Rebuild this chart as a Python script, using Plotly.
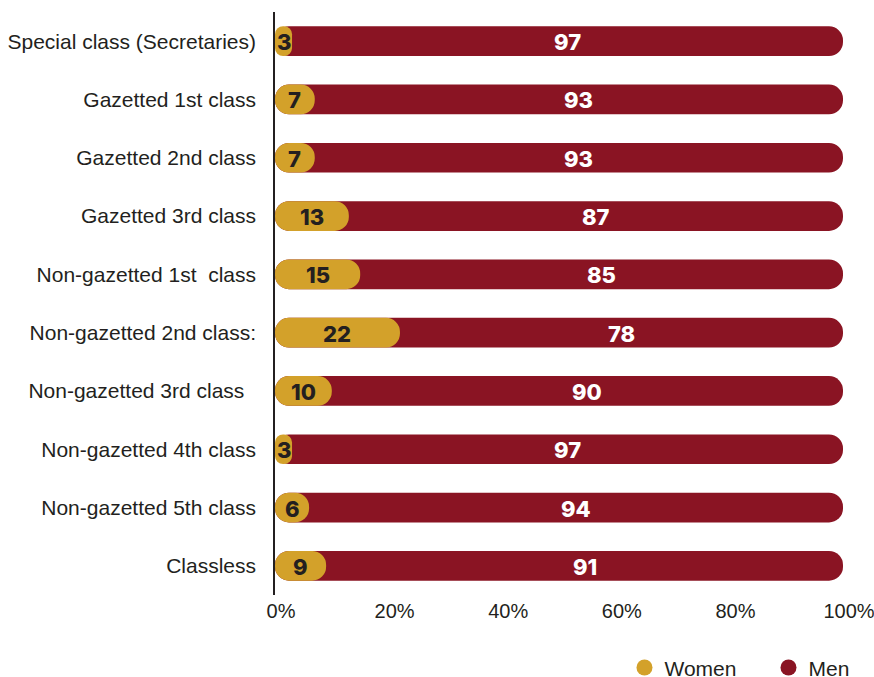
import plotly.graph_objects as go

categories = [
    "Special class (Secretaries)",
    "Gazetted 1st class",
    "Gazetted 2nd class",
    "Gazetted 3rd class",
    "Non-gazetted 1st\u00a0 class",
    "Non-gazetted 2nd class:",
    "Non-gazetted 3rd class\u00a0\u00a0",
    "Non-gazetted 4th class",
    "Non-gazetted 5th class",
    "Classless",
]
women = [3, 7, 7, 13, 15, 22, 10, 3, 6, 9]
men = [97, 93, 93, 87, 85, 78, 90, 97, 94, 91]
x_ticks = [0, 20, 40, 60, 80, 100]
x_ticklabels = ["0%", "20%", "40%", "60%", "80%", "100%"]

GOLD = "#D3A12A"
RED = "#8A1423"

totals = [w + m for w, m in zip(women, men)]
women_mid = [w / 2 for w in women]
men_mid = [w + m / 2 for w, m in zip(women, men)]

fig = go.Figure()
# men bar (drawn full length behind women so women's rounded end sits on red)
fig.add_trace(go.Bar(
    y=categories, x=totals, base=0, orientation="h",
    marker=dict(color=RED, cornerradius="50%", line=dict(width=0)),
    width=0.51, showlegend=False, hoverinfo="skip",
))
fig.add_trace(go.Bar(
    y=categories, x=women, base=0, orientation="h",
    marker=dict(color=GOLD, cornerradius="50%", line=dict(width=0)),
    width=0.51, showlegend=False, hoverinfo="skip",
))
# legend entries
fig.add_trace(go.Scatter(
    x=[None], y=[None], mode="markers", name="Women",
    marker=dict(color=GOLD, size=17, symbol="circle"),
))
fig.add_trace(go.Scatter(
    x=[None], y=[None], mode="markers", name="Men",
    marker=dict(color=RED, size=17, symbol="circle"),
))

annotations = []
for cat, w, wm, m, mm in zip(categories, women, women_mid, men, men_mid):
    annotations.append(dict(
        x=wm, y=cat, xref="x", yref="y", text=str(w), showarrow=False,
        font=dict(family="Inter", size=22, color="#231f20", weight=800),
        yshift=-1,
    ))
    annotations.append(dict(
        x=mm, y=cat, xref="x", yref="y", text=str(m), showarrow=False,
        font=dict(family="Inter", size=22, color="white", weight=800),
        yshift=-1,
    ))

fig.update_layout(
    width=874, height=677,
    margin=dict(l=275, r=31, t=12, b=82, autoexpand=False),
    paper_bgcolor="white", plot_bgcolor="white",
    barmode="overlay",
    font=dict(family="Liberation Sans, Arial", size=20, color="#231f20"),
    xaxis=dict(
        range=[0, 100], tickvals=x_ticks, ticktext=x_ticklabels,
        showgrid=False, zeroline=False, showline=False, automargin=False,
        tickfont=dict(size=20), ticklabelshift=6, ticklabelstandoff=2,
        ticklabeloverflow="allow",
    ),
    yaxis=dict(
        categoryorder="array", categoryarray=categories,
        autorange="reversed", showgrid=False, zeroline=False,
        showline=True, linecolor="#231f20", linewidth=1.5, automargin=False,
        ticks="", ticklabelstandoff=13, tickfont=dict(size=21),
    ),
    legend=dict(
        orientation="h", x=0.6153, xanchor="left", y=-0.125, yanchor="middle",
        font=dict(size=21), itemwidth=30, traceorder="normal",
        entrywidth=99,
    ),
    annotations=annotations,
    showlegend=True,
)

fig.write_html(
    "out.html",
    config={"displayModeBar": False},
    post_script="document.body.style.margin='0';document.body.style.overflow='hidden';",
)
